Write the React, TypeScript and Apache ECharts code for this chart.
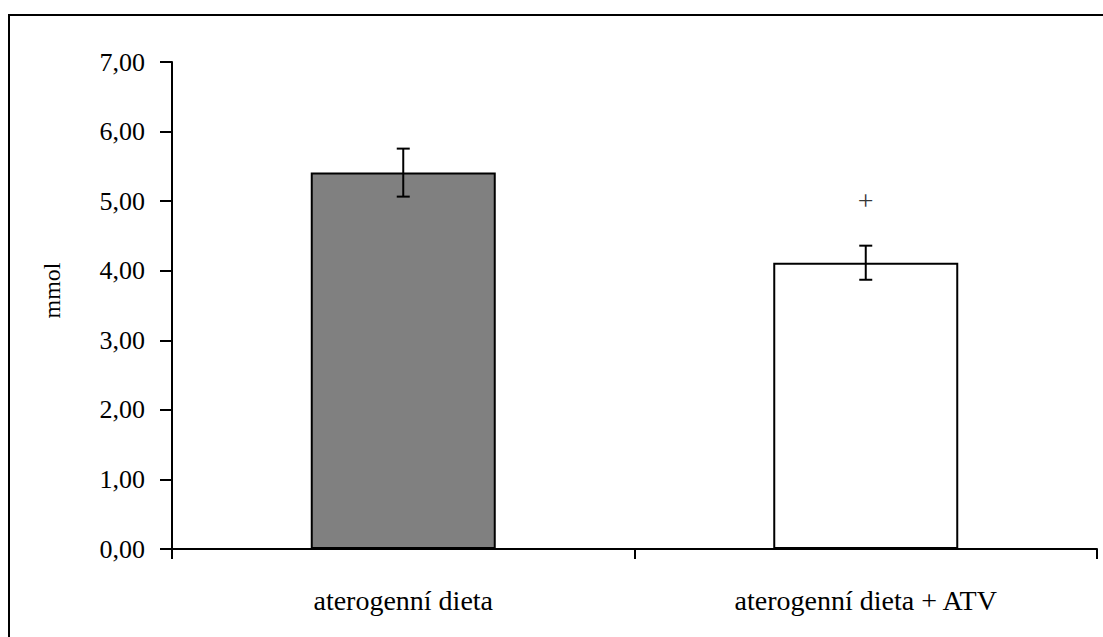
import React, { useEffect, useRef } from "react";
import * as echarts from "echarts";

const categories = ["aterogenní dieta", "aterogenní dieta + ATV"];
const means = [5.41, 4.115];
const errors = [0.345, 0.245];
const barColors = ["#808080", "#ffffff"];
const markerValues = [null, 5.01];
const yTicks = [0, 1, 2, 3, 4, 5, 6, 7];

const FONT = "Liberation Serif";

export default function App() {
  const ref = useRef<HTMLDivElement>(null);
  useEffect(() => {
    if (!ref.current) return;
    const chart = echarts.init(ref.current, null, { renderer: "svg" });
    const errData = means.map((m, i) => [i, m - errors[i], m + errors[i]]);
    chart.setOption({
      animation: false,
      backgroundColor: "#ffffff",
      textStyle: { fontFamily: FONT },
      grid: { left: 172, right: 6, top: 62, bottom: 88, containLabel: false },
      graphic: [
        {
          type: "rect",
          shape: { x: 9, y: 15, width: 1200, height: 700 },
          style: { fill: "none", stroke: "#000", lineWidth: 2 },
          silent: true,
          z: 100,
        },
      ],
      xAxis: {
        type: "category",
        data: categories,
        boundaryGap: true,
        axisLine: { lineStyle: { color: "#000", width: 2 } },
        axisTick: { show: true, length: 10, lineStyle: { color: "#000", width: 2 } },
        axisLabel: { color: "#000", fontFamily: FONT, fontSize: 28, margin: 37, interval: 0 },
        splitLine: { show: false },
      },
      yAxis: {
        type: "value",
        min: yTicks[0],
        max: yTicks[yTicks.length - 1],
        interval: 1,
        name: "mmol",
        nameLocation: "middle",
        nameGap: 108,
        nameRotate: 90,
        nameTextStyle: {
          color: "#000",
          fontFamily: FONT,
          fontSize: 24,
          padding: [0, 0, 0, 30],
        },
        axisLine: { show: true, lineStyle: { color: "#000", width: 2 } },
        axisTick: { show: true, length: 12, lineStyle: { color: "#000", width: 2 } },
        axisLabel: {
          color: "#000",
          fontFamily: FONT,
          fontSize: 26,
          margin: 27,
          formatter: (v: number) => v.toFixed(2).replace(".", ","),
        },
        splitLine: { show: false },
      },
      series: [
        {
          type: "bar",
          barWidth: "40%",
          data: means.map((m, i) => ({
            value: m,
            itemStyle: { color: barColors[i], borderColor: "#000", borderWidth: 2 },
          })),
          z: 2,
        },
        {
          type: "custom",
          data: errData,
          z: 3,
          renderItem: (params: any, api: any) => {
            const x = api.coord([api.value(0), 0])[0];
            const lo = api.coord([api.value(0), api.value(1)])[1];
            const hi = api.coord([api.value(0), api.value(2)])[1];
            const cap = 6.5;
            const style = { stroke: "#000", lineWidth: 2 };
            return {
              type: "group",
              children: [
                { type: "line", shape: { x1: x, y1: lo, x2: x, y2: hi }, style },
                { type: "line", shape: { x1: x - cap, y1: hi, x2: x + cap, y2: hi }, style },
                { type: "line", shape: { x1: x - cap, y1: lo, x2: x + cap, y2: lo }, style },
              ],
            };
          },
        },
        {
          type: "scatter",
          symbolSize: 0,
          itemStyle: { color: "#000" },
          data: markerValues
            .map((v, i) => [i, v])
            .filter((d) => d[1] !== null),
          label: {
            show: true,
            position: "inside",
            formatter: "+",
            color: "#000",
            fontFamily: FONT,
            fontSize: 28,
          },
          z: 4,
        },
      ],
    });
    return () => chart.dispose();
  }, []);
  return (
    <div
      ref={ref}
      style={{ position: "fixed", left: 0, top: 0, width: 1103, height: 637, background: "#fff" }}
    />
  );
}
